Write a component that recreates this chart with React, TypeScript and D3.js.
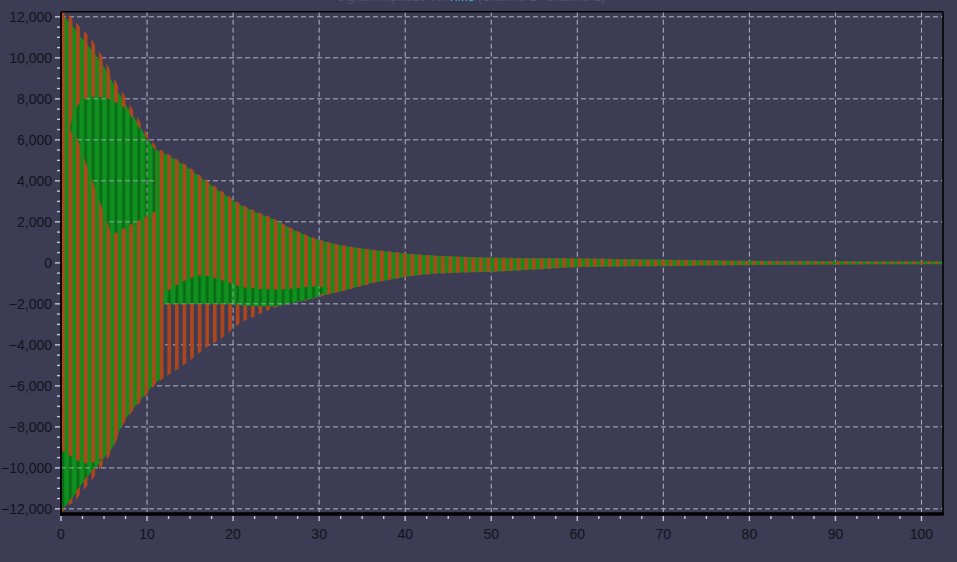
import React from "react";
import * as d3 from "d3";

// ---------- data ----------
const xTickValues = [0, 10, 20, 30, 40, 50, 60, 70, 80, 90, 100];
const yTickValues = [-12000, -10000, -8000, -6000, -4000, -2000, 0, 2000, 4000, 6000, 8000, 10000, 12000];

// red trace envelope (time, upper, lower)
const redTime = [0, 0.5, 1, 1.6, 2.2, 2.8, 3.2, 4.3, 5.1, 5.9, 7, 8.6, 10.1, 10.9, 12.5, 14.8, 16.5, 18.7, 20.8, 22.5, 24.7, 26.5, 28.6, 30.5, 32.4, 34.5, 36.2, 38, 40.1, 44, 47, 51, 55, 60.3, 65, 71.9, 76, 80, 85, 90, 95, 100, 102.5];
const redUpper = [12250, 12200, 12050, 11800, 11500, 11250, 11100, 10400, 9880, 9200, 8420, 7300, 6225, 5750, 5300, 4700, 4150, 3500, 2900, 2550, 2165, 1750, 1350, 1080, 880, 740, 640, 560, 460, 340, 290, 250, 230, 220, 180, 140, 110, 95, 80, 70, 65, 60, 60];
const redLower = [-12250, -11950, -11800, -11640, -11300, -11000, -10800, -10180, -9700, -9210, -8070, -7090, -6360, -5960, -5470, -4820, -4250, -3670, -2950, -2600, -2200, -1980, -1820, -1600, -1410, -1180, -990, -840, -680, -520, -470, -420, -330, -200, -170, -150, -120, -100, -85, -75, -65, -60, -60];

// green trace envelope (time, upper, lower)
const greenTime = [0, 0.5, 1, 1.6, 2.2, 2.8, 3.2, 4.3, 5.1, 5.9, 7, 8.6, 10.1, 10.9, 11.6, 11.9, 12.5, 14.8, 16.5, 18.7, 20.8, 22.5, 24.7, 26.5, 28.6, 30.5, 32.4, 34.5, 36.2, 38, 40.1, 44, 47, 51, 55, 60.3, 65, 71.9, 76, 80, 85, 90, 95, 100, 102.5];
const greenUpper = [12150, 11950, 11700, 11400, 11050, 10750, 10550, 9950, 9450, 8850, 8050, 7000, 6000, 5550, 5400, 5330, 5200, 4600, 4050, 3400, 2820, 2480, 2100, 1700, 1300, 1040, 850, 710, 610, 530, 440, 320, 270, 230, 210, 200, 165, 130, 100, 85, 72, 64, 58, 55, 55];
const greenLower = [-12100, -11850, -11600, -11300, -10900, -10550, -10350, -9850, -9450, -9050, -7950, -6980, -6250, -5850, -5600, -2000, -2000, -2000, -2000, -2000, -2050, -2100, -2120, -1950, -1790, -1570, -1380, -1150, -960, -820, -660, -500, -450, -400, -310, -190, -160, -140, -110, -92, -78, -70, -60, -55, -55];

// solid green zones (green trace only)
const upperZoneTime = [1.1, 1.4, 1.8, 2.5, 3.5, 4.5, 5.5, 5.9, 7, 7.8, 9, 10.1, 10.9, 11.0];
const upperZoneTop = [6700, 7250, 7600, 7950, 8100, 8100, 8000, 7900, 7700, 7350, 6650, 5980, 5530, 5500];
const upperZoneBottom = [6350, 6400, 6150, 5330, 4160, 2990, 1820, 1350, 1600, 1800, 2050, 2300, 2490, 2500];

const lowerZoneTime = [0.1, 1, 2, 3, 4, 4.7];
const lowerZoneTop = [-9150, -9400, -9650, -9800, -9700, -9550];
const lowerZoneBottom = [-12050, -11600, -11000, -10420, -9950, -9620];

const midZoneTime = [11.9, 13, 14.5, 16.3, 18.7, 20.8, 22.5, 24.7, 27, 28.6, 30, 31];
const midZoneTop = [-1500, -1200, -850, -600, -850, -1150, -1250, -1300, -1250, -1170, -1150, -1250];
const midZoneBottom = [-2000, -2000, -2000, -2000, -2000, -2050, -2100, -2110, -1930, -1790, -1600, -1300];

// ---------- layout / style ----------
const W = 957;
const H = 562;
const L = 61, R = 943, T = 11.7, B = 514;
const BG = "#3c3c55";
const RED = "#b2461a";
const GREEN = "#1b8a1d";
const ZONE_GREEN = "#11901f";
const ZONE_DARK = "#0a6b17";
const GRID = "#b4b4c8";
const TICK = "#c6c6d4";
const LABEL = "#13131e";
const P = 7.6; // stripe period in px
const RW = 3.6; // red stripe width

type Pt = { t: number; a: number; b: number };
const zip = (t: number[], a: number[], b: number[]): Pt[] => t.map((v, i) => ({ t: v, a: a[i], b: b[i] }));

export default function App() {
  const x = d3.scaleLinear().domain([0, 102.5]).range([L, R]);
  const y = d3.scaleLinear().domain([-12250, 12250]).range([B, T]);

  const smoothArea = d3
    .area<Pt>()
    .x((d) => x(d.t))
    .y0((d) => y(d.b))
    .y1((d) => y(d.a))
    .curve(d3.curveMonotoneX);
  const linArea = d3
    .area<Pt>()
    .x((d) => x(d.t))
    .y0((d) => y(d.b))
    .y1((d) => y(d.a))
    .curve(d3.curveLinear);

  const redPath = smoothArea(zip(redTime, redUpper, redLower)) || "";
  const greenPath = smoothArea(zip(greenTime, greenUpper, greenLower)) || "";
  const upperZone = linArea(zip(upperZoneTime, upperZoneTop, upperZoneBottom)) || "";
  const lowerZone = linArea(zip(lowerZoneTime, lowerZoneTop, lowerZoneBottom)) || "";
  const midZone = smoothArea(zip(midZoneTime, midZoneTop, midZoneBottom)) || "";

  const yMinor = d3.range(-12000, 12001, 500).filter((v) => v % 2000 !== 0);
  const xMinor = d3.range(0, 102.5, 2.5).filter((v) => v % 10 !== 0);

  const gridLines = (prefix: string) => (
    <g stroke={GRID} strokeWidth={1} strokeDasharray="5 3" fill="none">
      {yTickValues.map((v) => (
        <line key={prefix + "gy" + v} x1={L} x2={R} y1={y(v)} y2={y(v)} />
      ))}
      {xTickValues
        .filter((v) => v > 0)
        .map((v) => (
          <line key={prefix + "gx" + v} x1={x(v)} x2={x(v)} y1={T} y2={B} />
        ))}
    </g>
  );

  return (
    <svg
      width={W}
      height={H}
      viewBox={`0 0 ${W} ${H}`}
      style={{ position: "absolute", left: 0, top: 0, display: "block" }}
      fontFamily="Arial, 'Liberation Sans', sans-serif"
    >
      <defs>
        <clipPath id="plotClip">
          <rect x={L} y={T} width={R - L} height={B - T} />
        </clipPath>
        <clipPath id="zoneClip" clipPathUnits="userSpaceOnUse">
          <path d={upperZone} />
          <path d={lowerZone} />
          <path d={midZone} />
        </clipPath>
        <pattern id="redStripes" patternUnits="userSpaceOnUse" x={L} y={0} width={P} height={10}>
          <rect x={0} y={0} width={RW} height={10} fill={RED} />
        </pattern>
        <pattern id="zoneStripes" patternUnits="userSpaceOnUse" x={L} y={0} width={P} height={10}>
          <rect x={0} y={0} width={P} height={10} fill={ZONE_GREEN} />
          <rect x={0.4} y={0} width={2.8} height={10} fill={ZONE_DARK} />
        </pattern>
      </defs>

      <rect x={0} y={0} width={W} height={H} fill={BG} />

      {/* title, cut off at the top edge in the reference */}
      <text x={471} y={0.8} textAnchor="middle" fontSize={12} fill="#54546e">
        Signal Amplitude vs. <tspan fill="#2bc4d8">Time</tspan> (Channel 1 / Channel 2)
      </text>

      {gridLines("a")}

      <g clipPath="url(#plotClip)">
        <path d={greenPath} fill={GREEN} stroke={GREEN} strokeWidth={0.6} />
        <path d={redPath} fill="url(#redStripes)" />
        <path d={upperZone} fill="url(#zoneStripes)" />
        <path d={lowerZone} fill="url(#zoneStripes)" />
        <path d={midZone} fill="url(#zoneStripes)" />
      </g>

      {/* grid shows through the green-only zones */}
      <g clipPath="url(#zoneClip)" opacity={0.75}>
        {gridLines("b")}
      </g>

      {/* frame */}
      <line x1={L} x2={R} y1={T} y2={T} stroke="#000" strokeWidth={1.6} />
      <line x1={R} x2={R} y1={T} y2={B} stroke="#000" strokeWidth={1.6} />
      <line x1={L} x2={L} y1={T} y2={B + 1.5} stroke="#000" strokeWidth={2} />
      <line x1={L - 1} x2={R + 0.8} y1={B} y2={B} stroke="#000" strokeWidth={3.5} />

      {/* y ticks */}
      <g stroke={TICK} strokeWidth={1.4}>
        {yTickValues.map((v) => (
          <line key={"ty" + v} x1={L - 6} x2={L - 1} y1={y(v)} y2={y(v)} />
        ))}
        {yMinor.map((v) => (
          <line key={"tym" + v} x1={L - 4} x2={L - 1} y1={y(v)} y2={y(v)} />
        ))}
      </g>
      {/* x ticks */}
      <g stroke={TICK} strokeWidth={1.4}>
        {xTickValues.map((v) => (
          <line key={"tx" + v} x1={x(v)} x2={x(v)} y1={B + 2} y2={B + 7} />
        ))}
        {xMinor.map((v) => (
          <line key={"txm" + v} x1={x(v)} x2={x(v)} y1={B + 2} y2={B + 5} />
        ))}
      </g>

      {/* labels */}
      <g fontSize={14} fill={LABEL}>
        {yTickValues.map((v) => (
          <text key={"ly" + v} x={52} y={y(v)} dy="0.36em" textAnchor="end">
            {d3.format(",")(v)}
          </text>
        ))}
        {xTickValues.map((v) => (
          <text key={"lx" + v} x={x(v)} y={539} textAnchor="middle">
            {v}
          </text>
        ))}
      </g>
    </svg>
  );
}
